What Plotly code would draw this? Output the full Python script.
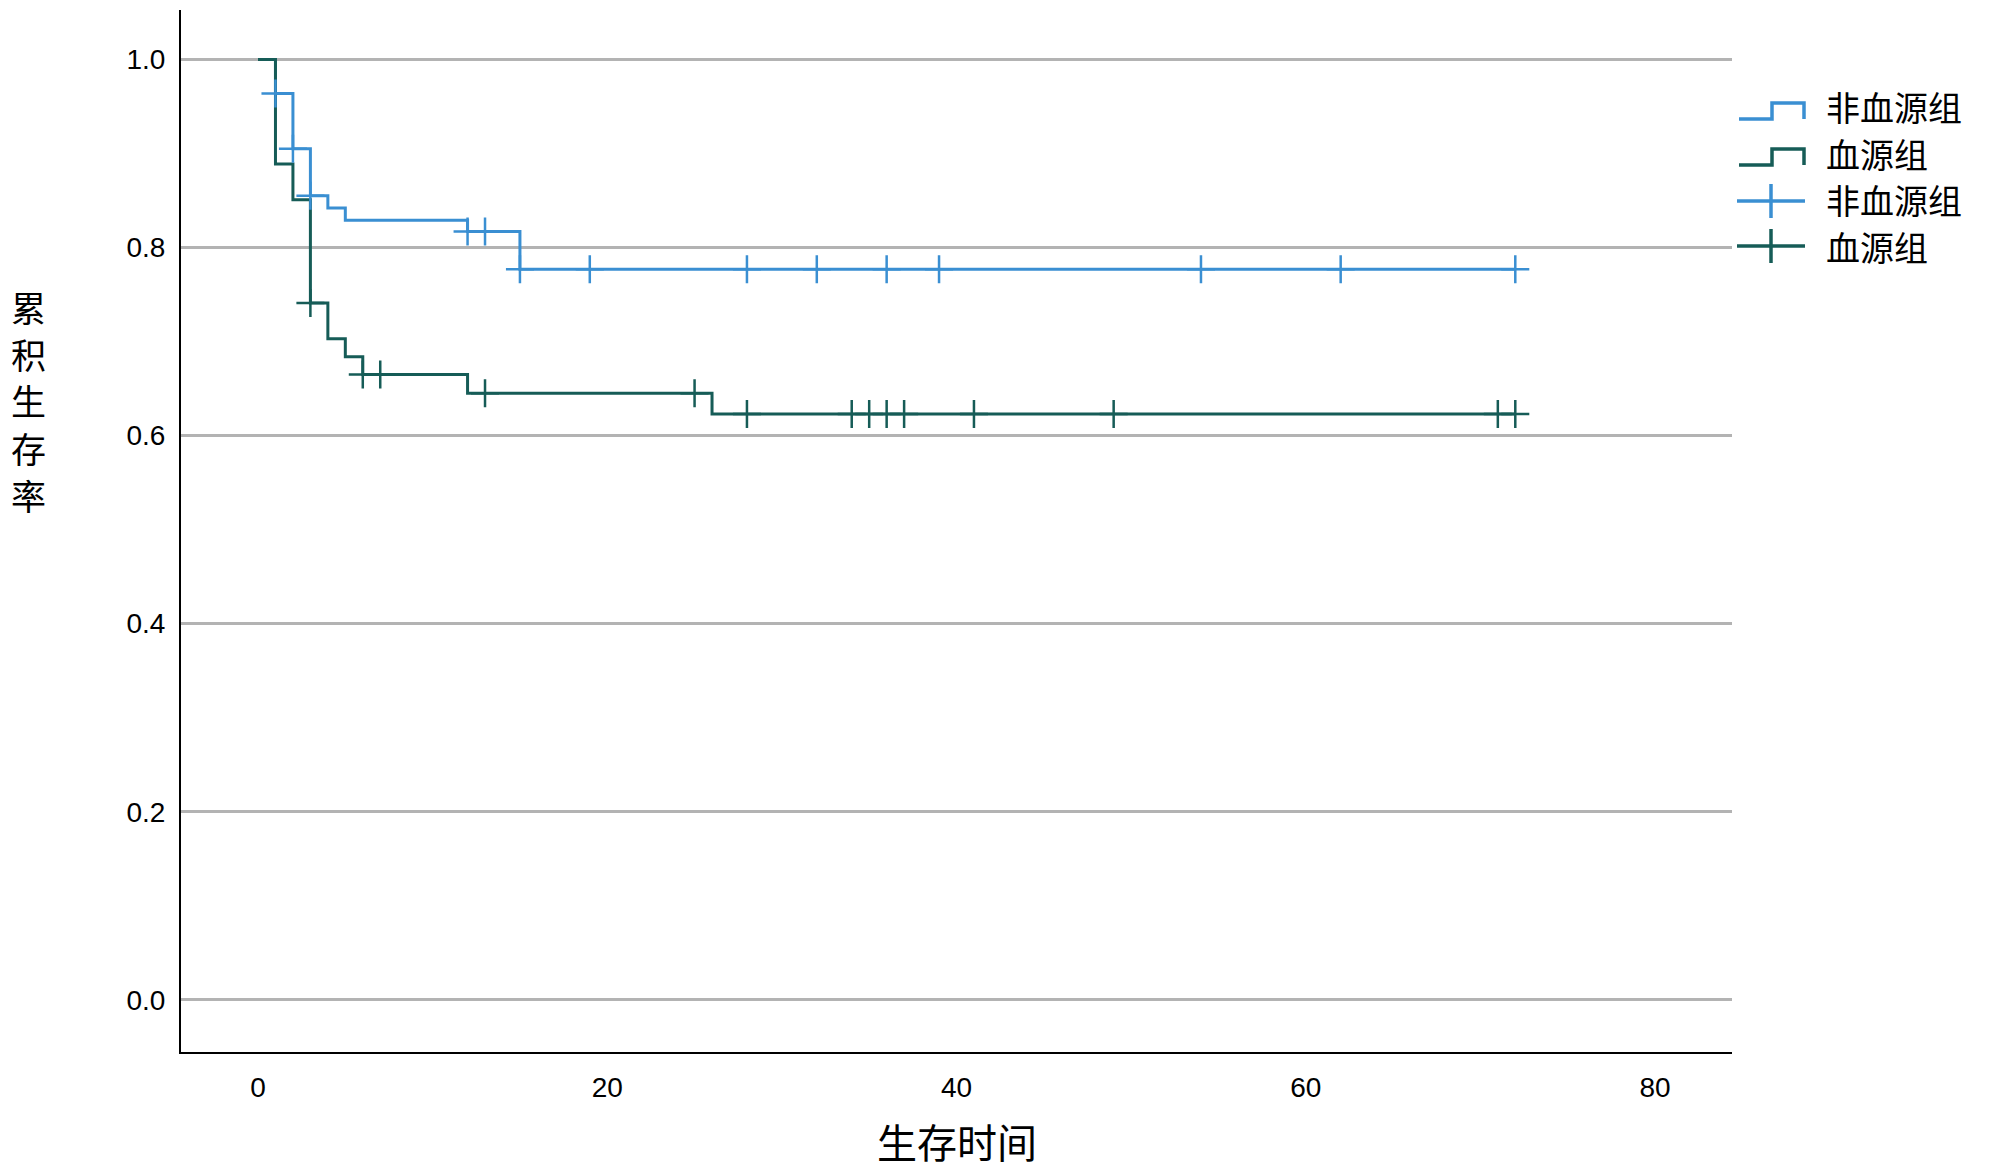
import numpy as np
import plotly.graph_objects as go

# ---------------- data ----------------
group_names = ["非血源组", "血源组"]

# 非血源组 (non-blood-borne) Kaplan-Meier steps
nb_step_times = [0, 1, 2, 3, 4, 5, 12, 15]
nb_step_surv = [1.0, 0.964, 0.905, 0.855, 0.842, 0.829, 0.817, 0.777]
nb_end_time = 72
nb_censor_times = [1, 2, 3, 12, 13, 15, 19, 28, 32, 36, 39, 54, 62, 72]

# 血源组 (blood-borne) Kaplan-Meier steps
b_step_times = [0, 1, 2, 3, 4, 5, 6, 12, 26]
b_step_surv = [1.0, 0.889, 0.851, 0.741, 0.703, 0.684, 0.665, 0.645, 0.623]
b_end_time = 72
b_censor_times = [3, 6, 7, 13, 25, 28, 34, 35, 36, 37, 41, 49, 71, 72]

x_ticks = [0, 20, 40, 60, 80]
y_ticks = [0.0, 0.2, 0.4, 0.6, 0.8, 1.0]

x_title = "生存时间"
y_title = "累积生存率"

# ---------------- style ----------------
BLUE = "#3a8fd2"
GREEN = "#165c57"
GRID = "#b3b3b3"
W, H = 2000, 1171
ML, MR, MT, MB = 181, 268, 10, 119
PW, PH = W - ML - MR, H - MT - MB


def surv_at(times, steps_t, steps_s):
    idx = np.searchsorted(np.asarray(steps_t), np.asarray(times), side="right") - 1
    return list(np.asarray(steps_s)[idx])


fig = go.Figure()

for st, ss, end, col in [
    (nb_step_times, nb_step_surv, nb_end_time, BLUE),
    (b_step_times, b_step_surv, b_end_time, GREEN),
]:
    fig.add_trace(go.Scatter(
        x=st + [end], y=ss + [ss[-1]], mode="lines",
        line=dict(color=col, width=3, shape="hv"),
        showlegend=False, hoverinfo="skip"))

for ct, st, ss, col in [
    (nb_censor_times, nb_step_times, nb_step_surv, BLUE),
    (b_censor_times, b_step_times, b_step_surv, GREEN),
]:
    fig.add_trace(go.Scatter(
        x=ct, y=surv_at(ct, st, ss), mode="markers",
        marker=dict(symbol="cross-thin", size=20, color=col,
                    line=dict(color=col, width=2.5)),
        showlegend=False, hoverinfo="skip"))

fig.update_xaxes(
    range=[-4.41, 84.41], tickvals=x_ticks, ticktext=[str(v) for v in x_ticks],
    showgrid=False, zeroline=False, showline=True, linecolor="black", linewidth=2,
    ticks="", ticklabelstandoff=9,
    tickfont=dict(family="Liberation Sans, Arial", size=28, color="black"))
fig.update_yaxes(
    range=[-0.0556, 1.0527], tickvals=y_ticks, tickformat=".1f",
    showgrid=True, gridcolor=GRID, gridwidth=3, zeroline=False,
    showline=True, linecolor="black", linewidth=2,
    ticks="", ticklabelstandoff=8,
    tickfont=dict(family="Liberation Sans, Arial", size=28, color="black"))


def px(x):
    return (x - ML) / PW


def py(y):
    return (H - MB - y) / PH


CJK = "Noto Sans CJK SC"

# y-axis title, one stacked character per row
for i, ch in enumerate(y_title):
    fig.add_annotation(x=px(28), y=py(306 + 47 * i), xref="paper", yref="paper",
                       text=ch, showarrow=False,
                       font=dict(family=CJK, size=35, color="black"),
                       xanchor="center", yanchor="middle")
fig.add_annotation(x=px(957), y=py(1141), xref="paper", yref="paper",
                   text=x_title, showarrow=False,
                   font=dict(family=CJK, size=40, color="black"),
                   xanchor="center", yanchor="middle")

# custom legend: (icon kind, colour, label, icon centre y, text centre y)
shapes = []
legend_rows = [
    ("step", BLUE, group_names[0], 111, 106),
    ("step", GREEN, group_names[1], 157, 153),
    ("cross", BLUE, group_names[0], 201, 200),
    ("cross", GREEN, group_names[1], 246, 247),
]
for kind, col, label, yc, yt in legend_rows:
    if kind == "step":
        path = (f"M {px(1739)} {py(yc + 8)} L {px(1772)} {py(yc + 8)} "
                f"L {px(1772)} {py(yc - 8)} L {px(1804)} {py(yc - 8)} "
                f"L {px(1804)} {py(yc + 8)}")
        shapes.append(dict(type="path", xref="paper", yref="paper", path=path,
                           line=dict(color=col, width=3.5)))
    else:
        shapes.append(dict(type="line", xref="paper", yref="paper",
                           x0=px(1737), x1=px(1805), y0=py(yc), y1=py(yc),
                           line=dict(color=col, width=3.5)))
        shapes.append(dict(type="line", xref="paper", yref="paper",
                           x0=px(1771), x1=px(1771), y0=py(yc - 17), y1=py(yc + 17),
                           line=dict(color=col, width=3.5)))
    fig.add_annotation(x=px(1824), y=py(yt), xref="paper", yref="paper",
                       text=label, showarrow=False, xanchor="left", yanchor="middle",
                       font=dict(family=CJK, size=34, color="black"))

fig.update_layout(
    shapes=shapes,
    width=W, height=H,
    margin=dict(l=ML, r=MR, t=MT, b=MB),
    paper_bgcolor="white", plot_bgcolor="white",
    showlegend=False,
)

fig.write_html(
    "out.html",
    config={"displayModeBar": False},
    post_script="document.body.style.margin='0';document.body.style.padding='0';"
                "document.body.style.overflow='hidden';",
)
